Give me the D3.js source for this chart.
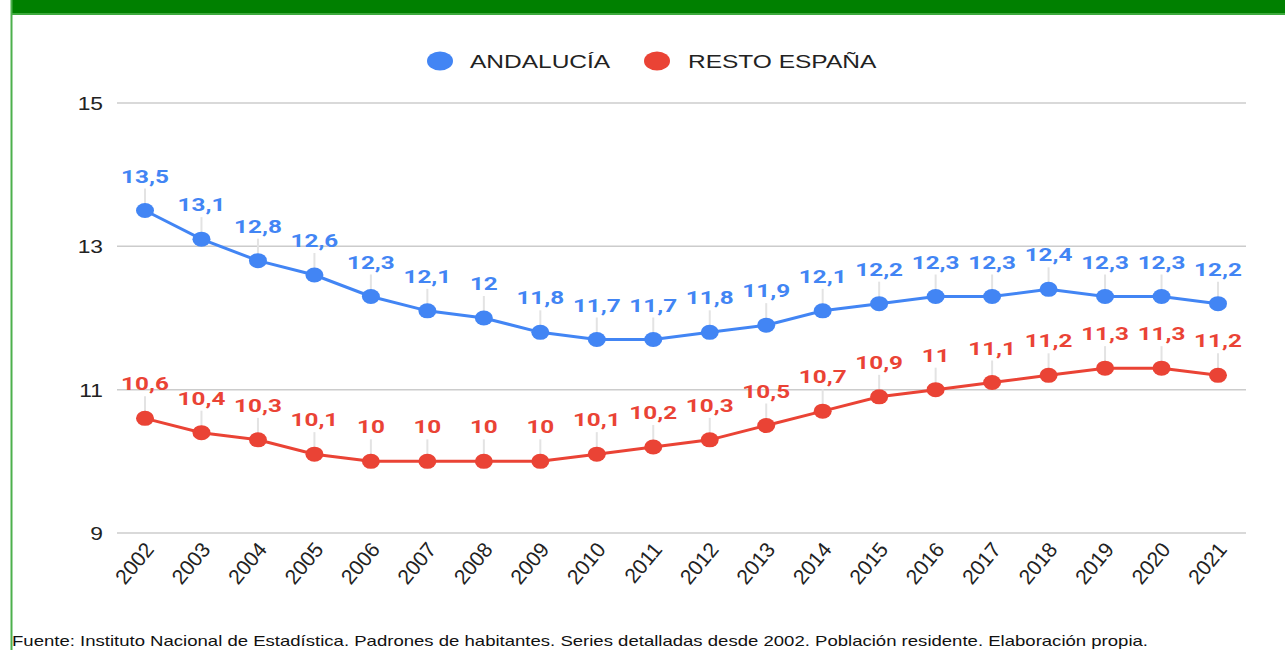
<!DOCTYPE html>
<html>
<head>
<meta charset="utf-8">
<script src="https://cdn.jsdelivr.net/npm/d3@7"></script>
<style>
  html, body { margin: 0; padding: 0; background: #fff; overflow: hidden; }
  svg { display: block; }
</style>
</head>
<body>
<script>
const years = ["2002","2003","2004","2005","2006","2007","2008","2009","2010","2011","2012","2013","2014","2015","2016","2017","2018","2019","2020","2021"];
const andalucia = [13.5,13.1,12.8,12.6,12.3,12.1,12,11.8,11.7,11.7,11.8,11.9,12.1,12.2,12.3,12.3,12.4,12.3,12.3,12.2];
const restoEspana = [10.6,10.4,10.3,10.1,10,10,10,10,10.1,10.2,10.3,10.5,10.7,10.9,11,11.1,11.2,11.3,11.3,11.2];
const yTicks = [9, 11, 13, 15];
const seriesNames = ["ANDALUCÍA", "RESTO ESPAÑA"];
const seriesColors = ["#4285F4", "#EA4335"];
const footerText = "Fuente: Instituto Nacional de Estadística. Padrones de habitantes. Series detalladas desde 2002. Población residente. Elaboración propia.";

const W = 1285, H = 650;
const svg = d3.select("body").append("svg").attr("width", W).attr("height", H);
const FONT = "'Liberation Sans', Arial, sans-serif";

// frame
svg.append("rect").attr("x", 11).attr("y", 0).attr("width", W - 11).attr("height", 14).attr("fill", "#008000");
svg.append("rect").attr("x", 11).attr("y", 13).attr("width", W - 11).attr("height", 2).attr("fill", "#3daa3d");
svg.append("rect").attr("x", 10.5).attr("y", 0).attr("width", 2).attr("height", H).attr("fill", "#4cb04c");

const x = d3.scalePoint().domain(years).range([145, 1218]);
const y = d3.scaleLinear().domain([9, 15]).range([533, 103]);

function stretchedText(g, px, py, txt, sx) {
  return g.append("text").attr("transform", `translate(${px},${py}) scale(${sx},1)`).text(txt);
}

// gridlines
const grid = svg.append("g");
grid.selectAll("line").data(yTicks).join("line")
  .attr("x1", 117).attr("x2", 1246)
  .attr("y1", d => y(d)).attr("y2", d => y(d))
  .attr("stroke", "#cccccc").attr("stroke-width", 1.5);

// y labels
const yl = svg.append("g").attr("font-family", FONT).attr("font-size", 19).attr("fill", "#222").attr("text-anchor", "end");
yTicks.forEach(t => stretchedText(yl, 103, y(t) + 7, String(t), 1.2));

// x labels
const xl = svg.append("g").attr("font-family", FONT).attr("font-size", 21).attr("fill", "#222").attr("text-anchor", "end");
years.forEach(yr => {
  xl.append("text").attr("transform", `translate(${x(yr) + 10},${550}) rotate(-50)`).text(yr);
});

// legend
const leg = svg.append("g").attr("font-family", FONT).attr("font-size", 19).attr("fill", "#222");
const legendDotX = [440, 657], legendTextX = [470, 688];
seriesNames.forEach((n, i) => {
  leg.append("ellipse").attr("cx", legendDotX[i]).attr("cy", 61).attr("rx", 13).attr("ry", 9.5).attr("fill", seriesColors[i]);
  stretchedText(leg, legendTextX[i], 68, n, 1.29);
});

// series
const allSeries = [andalucia, restoEspana];
allSeries.forEach((vals, si) => {
  const data = years.map((yr, i) => ({ yr, v: vals[i] }));
  const g = svg.append("g");
  g.selectAll("line.stem").data(data).join("line").attr("class", "stem")
    .attr("x1", d => x(d.yr)).attr("x2", d => x(d.yr))
    .attr("y1", d => y(d.v) - 22).attr("y2", d => y(d.v))
    .attr("stroke", "#e3e3e3").attr("stroke-width", 2);
  g.append("path").datum(data)
    .attr("d", d3.line().x(d => x(d.yr)).y(d => y(d.v)))
    .attr("fill", "none").attr("stroke", seriesColors[si]).attr("stroke-width", 3);
  g.selectAll("ellipse").data(data).join("ellipse")
    .attr("cx", d => x(d.yr)).attr("cy", d => y(d.v)).attr("rx", 9).attr("ry", 7.5)
    .attr("fill", seriesColors[si]);
  const lab = g.append("g").attr("font-family", "Roboto, 'Liberation Sans', Arial, sans-serif")
    .attr("font-weight", "bold").attr("font-size", 18).attr("fill", seriesColors[si]).attr("text-anchor", "middle");
  data.forEach(d => stretchedText(lab, x(d.yr), y(d.v) - 28, String(d.v).replace(".", ","), 1.35));
});

// footer
svg.append("text").attr("x", 12).attr("y", 646)
  .attr("font-family", FONT).attr("font-size", 15).attr("fill", "#111")
  .attr("textLength", 1136).attr("lengthAdjust", "spacingAndGlyphs")
  .text(footerText);
</script>
</body>
</html>
